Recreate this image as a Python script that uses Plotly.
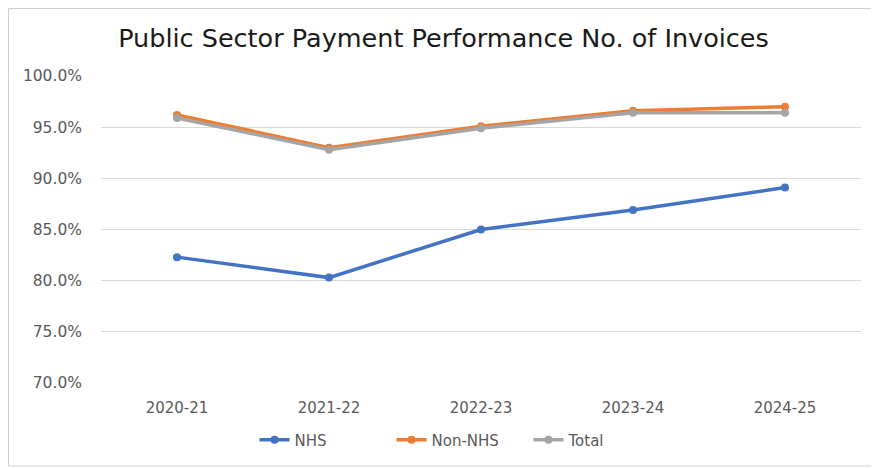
import plotly.graph_objects as go

years = ["2020-21", "2021-22", "2022-23", "2023-24", "2024-25"]
nhs = [82.3, 80.3, 85.0, 86.9, 89.1]
non_nhs = [96.2, 93.0, 95.1, 96.6, 97.0]
total = [95.9, 92.8, 94.9, 96.4, 96.4]

series = [
    ("NHS", nhs, "#4472C4"),
    ("Non-NHS", non_nhs, "#ED7D31"),
    ("Total", total, "#A5A5A5"),
]

fig = go.Figure()
for name, vals, col in series:
    fig.add_trace(go.Scatter(
        x=years, y=vals, name=name, mode="lines+markers",
        line=dict(color=col, width=3.5),
        marker=dict(color=col, size=8),
    ))

font_family = "DejaVu Sans, Liberation Sans, sans-serif"
W, H = 879, 468
L, R, T, B = 93, 26, 68, 93
pw, ph = W - L - R, H - T - B

fig.update_layout(
    width=W, height=H,
    margin=dict(l=L, r=R, t=T, b=B, autoexpand=False),
    paper_bgcolor="white", plot_bgcolor="white",
    title=dict(text="Public Sector Payment Performance No. of Invoices",
               xref="container", yref="container",
               x=435.5 / W, xanchor="center", y=1 - 30 / H, yanchor="middle",
               font=dict(family=font_family, size=25.5, color="#1a1a1a")),
    font=dict(family=font_family, size=14, color="#595959"),
    showlegend=True,
    legend=dict(orientation="h", x=452 / W, xanchor="center", y=1 - 432 / H, yanchor="middle",
                xref="container", yref="container", entrywidth=92,
                font=dict(size=15, color="#595959")),
    xaxis=dict(type="category", range=[-0.5, 4.5], showgrid=False, showline=False, ticks="",
               ticklabelstandoff=14, tickfont=dict(size=15, color="#595959")),
    yaxis=dict(range=[70, 100], dtick=5, tick0=70, ticksuffix="%", tickformat=".1f",
               showgrid=True, gridcolor="#D9D9D9", gridwidth=1, zeroline=False,
               showline=False, ticks="", ticklabelstandoff=18,
               tickfont=dict(size=15.5, color="#595959")),
    shapes=[dict(type="rect", xref="paper", yref="paper",
                 x0=(0.5 - L) / pw, x1=(865 - L) / pw,
                 y0=(T + ph - 458) / ph, y1=(T + ph - 0.5) / ph,
                 line=dict(color="#D0D0D0", width=1))],
)

fig.write_html("out.html")
